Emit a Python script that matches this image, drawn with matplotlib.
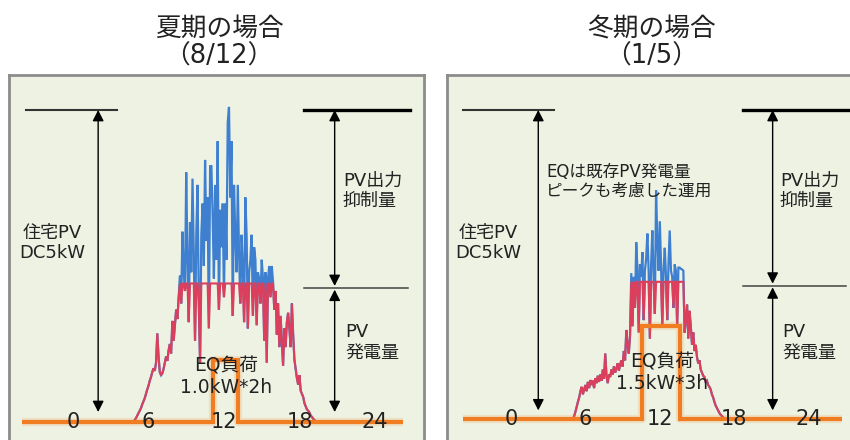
import numpy as np
import matplotlib
matplotlib.use("Agg")
import matplotlib.pyplot as plt

plt.rcParams['font.family'] = ['DejaVu Sans', 'Noto Sans CJK JP']

# ---- data -------------------------------------------------------------
step_h = 0.1

# summer day (8/12): PV output [kW], sampled every 0.1 h from 4.8 h
summer_start = 4.8
pv_summer = [
    0.00, 0.03,
    0.06, 0.10, 0.14, 0.18, 0.22, 0.28, 0.33, 0.38, 0.45, 0.52,
    0.58, 0.66, 0.72, 0.80, 0.86, 0.82, 0.95, 1.42, 1.05, 0.80,
    0.75, 0.78, 0.85, 0.95, 1.05, 0.98, 1.15, 1.25, 1.10, 1.62,
    1.30, 1.55, 1.80, 1.65, 2.00, 2.35, 1.90, 3.05, 2.40, 2.10,
    4.00, 2.60, 1.60, 3.20, 2.40, 3.90, 2.70, 1.30, 3.00, 3.80,
    1.90, 0.95, 3.00, 3.50, 2.50, 4.20, 2.90, 3.60, 1.50, 4.10,
    4.10, 3.30, 2.30, 3.80, 2.60, 4.50, 1.80, 3.40, 2.80, 3.50,
    2.00, 3.50, 2.60, 4.80, 5.05, 3.60, 4.50, 1.70, 3.80, 3.00,
    2.40, 3.80, 2.70, 1.90, 3.00, 2.50, 1.60, 3.60, 3.00, 1.50,
    2.40, 2.60, 3.00, 1.70, 2.80, 2.60, 1.55, 2.40, 2.30, 1.90,
    2.60, 2.30, 1.30, 2.40, 0.95, 2.30, 2.50, 2.00, 2.50, 2.25,
    1.80, 2.10, 1.40, 1.90, 1.20, 1.70, 1.30, 0.90, 1.50, 1.20,
    1.60, 1.75, 1.50, 1.20, 1.90, 1.40, 1.00, 0.85, 0.70, 0.60,
    0.75, 0.50, 0.45, 0.40, 0.30, 0.25, 0.20, 0.18, 0.15, 0.10,
    0.08, 0.05, 0.03, 0.01, 0.00,
]

# winter day (1/5): PV output [kW], sampled every 0.1 h from 5.0 h
winter_start = 5.0
pv_winter = [
    0.00, 0.05, 0.12, 0.20, 0.28, 0.35, 0.45, 0.52, 0.40, 0.48,
    0.55, 0.45, 0.60, 0.50, 0.63, 0.55, 0.62, 0.50, 0.66, 0.58,
    0.70, 0.60, 0.72, 0.62, 0.80, 0.65, 1.06, 0.70, 0.58, 0.72,
    0.68, 0.80, 0.72, 0.85, 0.75, 0.82, 0.90, 0.78, 0.88, 0.95,
    0.85, 1.10, 0.95, 1.44, 1.20, 1.06, 1.35, 2.36, 1.50, 2.30,
    1.80, 2.86, 2.40, 1.40, 2.50, 2.30, 2.70, 1.60, 2.40, 2.60,
    3.00, 2.40, 1.30, 2.50, 3.05, 2.30, 1.70, 3.70, 2.90, 2.40,
    3.20, 2.50, 1.50, 2.40, 2.77, 2.30, 1.60, 2.50, 3.05, 2.40,
    2.30, 1.80, 2.50, 2.40, 1.50, 2.45, 2.45, 2.43, 2.42, 2.40,
    1.40, 1.60, 1.85, 1.30, 1.75, 1.50, 1.20, 1.40, 1.10, 1.20,
    1.00, 0.90, 0.95, 0.80, 0.75, 0.70, 0.68, 0.60, 0.62, 0.55,
    0.52, 0.48, 0.40, 0.35, 0.28, 0.22, 0.18, 0.14, 0.10, 0.07,
    0.05, 0.03, 0.01, 0.00,
]

pv_capacity_kw = 5.0        # 住宅PV DC5kW
clip_kw = [2.22, 2.22]      # output limit (summer, winter)
split_kw = [2.14, 2.15]     # boundary between 抑制量 / 発電量 arrows

# EQ load block: kW, duration [h], start [h]
eq_kw = [1.0, 1.5]
eq_hours = [2, 3]
eq_start = [11.1, 10.6]

tick_hours = [0, 6, 12, 18, 24]

titles = ["夏期の場合\n（8/12）", "冬期の場合\n（1/5）"]
eq_labels = ["EQ負荷\n1.0kW*2h", "EQ負荷\n1.5kW*3h"]

# ---- styling ----------------------------------------------------------
W, H = 850, 440
BG = "#edf2e2"
EDGE = "#8c8c8c"
BLUE = "#3f7fd0"
RED = "#dc3f5c"
ORANGE = "#f07d22"
TXT = "#222222"

fig = plt.figure(figsize=(W / 100, H / 100), dpi=100)
fig.patch.set_facecolor("white")


def make_panel(box, x0_px, px_per_h, base_px, px_per_kw):
    l, t, r, b = box
    ax = fig.add_axes([l / W, 1 - b / H, (r - l) / W, (b - t) / H])
    ax.set_xlim((l - x0_px) / px_per_h, (r - x0_px) / px_per_h)
    ax.set_ylim((base_px - b) / px_per_kw, (base_px - t) / px_per_kw)
    ax.set_facecolor(BG)
    for s in ax.spines.values():
        s.set_color(EDGE)
        s.set_linewidth(2.0)
    ax.set_xticks([])
    ax.set_yticks([])
    return ax


panels = [
    make_panel((9, 75, 424, 452), 73, 12.58, 422, 62.4),
    make_panel((447, 75, 862, 452), 511, 12.4, 419, 61.8),
]

series = [(summer_start, pv_summer), (winter_start, pv_winter)]
base_span = [(-4.05, 26.2), (-3.9, 26.7)]
left_arrow_x = [2.0, 2.2]
right_arrow_x = [20.8, 21.1]
top_left_span = [(-3.7, 3.5), (-3.9, 3.5)]
top_right_span = [(18.4, 26.8), (18.7, 28.5)]
mid_span = [(18.4, 26.6), (18.7, 27.0)]
arrow_bottom = [0.16, 0.14]

arrow_kw = dict(arrowstyle="<|-|>,head_length=0.55,head_width=0.28",
                color="black", lw=1.0, shrinkA=0, shrinkB=0,
                mutation_scale=12)

for i, ax in enumerate(panels):
    start, pv = series[i]
    pv = np.asarray(pv)
    t = start + step_h * np.arange(len(pv))

    # full PV output (blue) and clipped output (red) on top
    ax.plot(t, pv, color=BLUE, lw=1.6, zorder=3, solid_joinstyle="miter")
    ax.plot(t, np.minimum(pv, clip_kw[i]), color=RED, lw=1.5, zorder=4,
            solid_joinstyle="miter")

    # EQ load profile
    x0, x1 = base_span[i]
    s = eq_start[i]
    e = s + eq_hours[i]
    ex = [x0, s, s, e, e, x1]
    ey = [0, 0, eq_kw[i], eq_kw[i], 0, 0]
    ax.plot(ex, ey, color=ORANGE, lw=6, alpha=0.15, zorder=5,
            solid_capstyle="butt")
    ax.plot(ex, ey, color=ORANGE, lw=3, zorder=6, solid_capstyle="butt",
            solid_joinstyle="miter")

    # reference lines
    ax.plot(top_left_span[i], [pv_capacity_kw] * 2, color="#333333", lw=1.5,
            zorder=2)
    ax.plot(top_right_span[i], [pv_capacity_kw] * 2, color="black", lw=2.4,
            zorder=2)
    ax.plot(mid_span[i], [split_kw[i]] * 2, color="#444444", lw=1.1, zorder=2)

    # dimension arrows
    ax.annotate("", xy=(left_arrow_x[i], pv_capacity_kw),
                xytext=(left_arrow_x[i], arrow_bottom[i]), arrowprops=arrow_kw)
    ax.annotate("", xy=(right_arrow_x[i], pv_capacity_kw),
                xytext=(right_arrow_x[i], split_kw[i] + 0.04),
                arrowprops=arrow_kw)
    ax.annotate("", xy=(right_arrow_x[i], split_kw[i] - 0.02),
                xytext=(right_arrow_x[i], arrow_bottom[i]),
                arrowprops=arrow_kw)

    # hour labels sitting on the baseline
    for h in tick_hours:
        ax.text(h, 0, str(h), ha="center", va="center", fontsize=15,
                color=TXT, zorder=8)


def ftext(x, y, s, **kw):
    kw.setdefault("color", TXT)
    fig.text(x / W, 1 - y / H, s, **kw)


# titles
ftext(219, 43, titles[0], ha="center", va="center", fontsize=18.5,
      linespacing=1.1)
ftext(652, 43, titles[1], ha="center", va="center", fontsize=18.5,
      linespacing=1.1)

# panel annotations
for (cx, rx, ex_, eqy, i) in [(52, 343, 226, 377, 0), (488, 780, 662, 373, 1)]:
    ftext(cx, 243, "住宅PV\nDC5kW", ha="center", va="center", fontsize=13,
          linespacing=1.2)
    ftext(rx, 191, "PV出力\n抑制量", ha="left", va="center", fontsize=13,
          linespacing=1.2)
    ftext(rx + 2, 342, "PV\n発電量", ha="left", va="center", fontsize=13,
          linespacing=1.2)
    ftext(ex_, eqy, eq_labels[i], ha="center", va="center", fontsize=13.5,
          linespacing=1.15, zorder=9)

ftext(546, 181, "EQは既存PV発電量\nピークも考慮した運用", ha="left",
      va="center", fontsize=12, linespacing=1.05)

fig.savefig("out.png", dpi=100, facecolor="white")
